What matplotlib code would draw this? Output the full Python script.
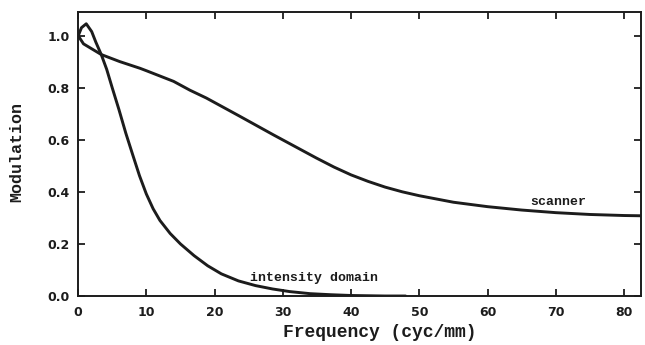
import matplotlib

matplotlib.use("Agg")

import matplotlib.pyplot as plt

# values
scanner_freq = [0, 0.8, 1.75, 3.4, 6.1, 9.1, 10, 14, 16.4, 18.8, 23.7, 28.6, 34.9,
                37.5, 40, 42.5, 45, 47.5, 50, 55, 60, 65, 70, 75, 80, 82.5]
scanner_mod = [1.0, 0.968, 0.953, 0.927, 0.90, 0.874, 0.865, 0.824, 0.79, 0.76, 0.69,
               0.619, 0.53, 0.495, 0.465, 0.44, 0.418, 0.40, 0.385, 0.36, 0.343, 0.33,
               0.32, 0.313, 0.309, 0.308]

intensity_freq = [0, 0.5, 1.2, 2.0, 2.6, 3.4, 4.2, 5.0, 6.0, 7.0, 8.0, 9.0, 10.0, 11.0,
                  12.0, 13.5, 15.0, 17.0, 19.0, 21.0, 23.5, 26.0, 28.5, 31.0, 34.0,
                  37.0, 40.0, 45.0, 48.0]
intensity_mod = [0.997, 1.03, 1.045, 1.015, 0.975, 0.927, 0.87, 0.80, 0.715, 0.625, 0.543,
                 0.462, 0.392, 0.335, 0.29, 0.24, 0.2, 0.155, 0.116, 0.085, 0.058, 0.04,
                 0.027, 0.017, 0.009, 0.005, 0.002, 0.0, 0.0]

x_ticks = [0, 10, 20, 30, 40, 50, 60, 70, 80]
y_ticks = [0.0, 0.2, 0.4, 0.6, 0.8, 1.0]

ink = "#1c1c1c"
mono = "Liberation Mono"

fig = plt.figure(figsize=(6.45, 3.45), dpi=100)
ax = fig.add_axes([0.121, 0.142, 0.873, 0.823])

ax.plot(scanner_freq, scanner_mod, color=ink, linewidth=2.1, solid_capstyle="round")
ax.plot(intensity_freq, intensity_mod, color=ink, linewidth=2.1, solid_capstyle="round")

ax.set_xlim(0, 82.5)
ax.set_ylim(0, 1.09)
ax.set_xticks(x_ticks)
ax.set_yticks(y_ticks)
ax.set_yticklabels([f"{v:.1f}" for v in y_ticks])
ax.tick_params(direction="in", length=5, width=1.3, colors=ink,
               top=True, right=True, labelsize=9)
ax.tick_params(axis="x", pad=7)
ax.tick_params(axis="y", pad=6)
for label in ax.get_xticklabels() + ax.get_yticklabels():
    label.set_fontfamily("DejaVu Sans")
    label.set_fontweight("bold")
for spine in ax.spines.values():
    spine.set_linewidth(1.4)
    spine.set_color(ink)

ax.set_xlabel("Frequency (cyc/mm)", fontfamily=mono, fontweight="bold",
              fontsize=13, color=ink)
ax.set_ylabel("Modulation", fontfamily=mono, fontweight="bold",
              fontsize=12, color=ink)
ax.xaxis.set_label_coords(0.536, -0.099)
ax.yaxis.set_label_coords(-0.096, 0.507)

ax.text(66.2, 0.36, "scanner", fontfamily=mono, fontweight="bold",
        fontsize=9.5, color=ink, va="center", ha="left")
ax.text(25.2, 0.069, "intensity domain", fontfamily=mono, fontweight="bold",
        fontsize=9.5, color=ink, va="center", ha="left")

fig.savefig("out.png", dpi=100)
plt.close(fig)
